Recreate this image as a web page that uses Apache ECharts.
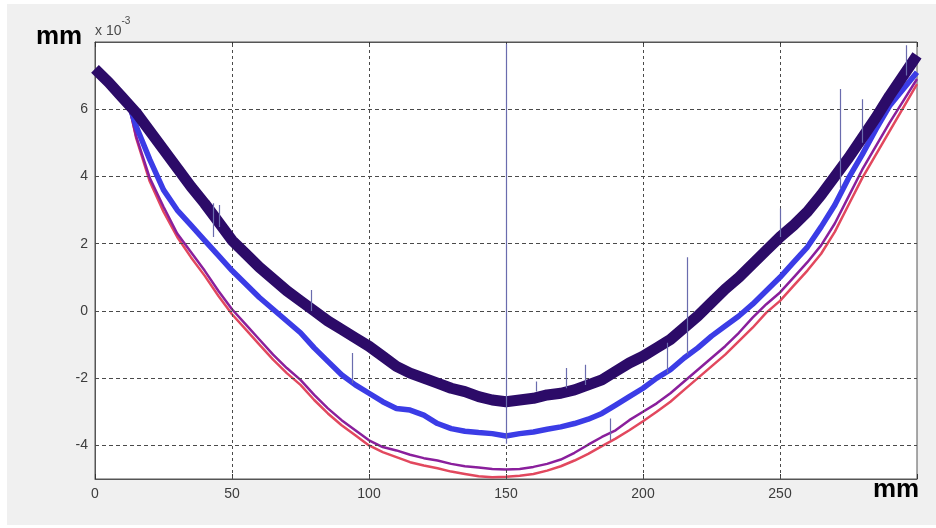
<!DOCTYPE html>
<html>
<head>
<meta charset="utf-8">
<script src="https://cdn.jsdelivr.net/npm/echarts@6/dist/echarts.min.js"></script>
<style>
  html, body { margin: 0; padding: 0; background: #ffffff; }
  #chart { width: 936px; height: 528px; }
</style>
</head>
<body>
<div id="chart"></div>
<script>
// Profile traces, values in units of 1e-3 mm
const xUpper = [0,5,10,15,20,25,30,35,40,45,50,55,60,65,70,75,80,85,90,95,100,105,110,115,120,125,130,135,140,145,150,155,160,165,170,175,180,185,190,195,200,205,210,215,220,225,230,235,240,245,250,255,260,265,270,275,280,285,290,295,300];
const traceDark = [7.2,6.8,6.35,5.9,5.35,4.8,4.25,3.7,3.2,2.65,2.1,1.7,1.3,0.95,0.6,0.3,0.0,-0.3,-0.55,-0.8,-1.05,-1.35,-1.65,-1.85,-2.0,-2.15,-2.3,-2.4,-2.55,-2.65,-2.7,-2.65,-2.6,-2.5,-2.45,-2.35,-2.2,-2.05,-1.8,-1.55,-1.35,-1.1,-0.85,-0.5,-0.15,0.25,0.65,1.0,1.4,1.8,2.2,2.55,2.95,3.45,4.0,4.55,5.15,5.75,6.4,7.0,7.6];

const xLower = [13,15,20,25,30,35,40,45,50,55,60,65,70,75,80,85,90,95,100,105,110,115,120,125,130,135,140,145,150,155,160,165,170,175,180,185,190,195,200,205,210,215,220,225,230,235,240,245,250,255,260,265,270,275,280,285,290,295,300];
const traceBlue = [6.0,5.5,4.5,3.6,3.0,2.55,2.1,1.65,1.2,0.8,0.4,0.05,-0.3,-0.65,-1.1,-1.5,-1.9,-2.2,-2.45,-2.7,-2.9,-2.95,-3.1,-3.35,-3.5,-3.58,-3.62,-3.65,-3.72,-3.65,-3.6,-3.52,-3.45,-3.35,-3.22,-3.05,-2.8,-2.55,-2.3,-2.0,-1.75,-1.4,-1.1,-0.75,-0.45,-0.15,0.2,0.6,1.0,1.45,1.9,2.5,3.15,3.95,4.65,5.4,6.1,6.6,7.1];
const tracePurple = [5.9,5.2,3.95,3.1,2.3,1.75,1.2,0.6,0.05,-0.4,-0.85,-1.3,-1.7,-2.05,-2.5,-2.9,-3.25,-3.55,-3.85,-4.05,-4.15,-4.28,-4.38,-4.45,-4.55,-4.62,-4.66,-4.7,-4.72,-4.7,-4.64,-4.55,-4.42,-4.22,-3.98,-3.75,-3.55,-3.25,-3.0,-2.75,-2.45,-2.1,-1.75,-1.4,-1.05,-0.65,-0.2,0.2,0.55,1.0,1.45,1.95,2.6,3.4,4.2,4.9,5.6,6.25,6.9];
const traceRed = [5.9,5.15,3.85,2.95,2.2,1.6,1.05,0.45,-0.1,-0.55,-1.0,-1.45,-1.85,-2.2,-2.65,-3.05,-3.4,-3.7,-4.0,-4.2,-4.35,-4.5,-4.6,-4.68,-4.78,-4.85,-4.92,-4.95,-4.93,-4.9,-4.85,-4.75,-4.62,-4.45,-4.25,-4.02,-3.8,-3.55,-3.28,-3.0,-2.7,-2.35,-2.0,-1.65,-1.3,-0.9,-0.5,-0.05,0.3,0.75,1.2,1.7,2.35,3.15,3.95,4.65,5.35,6.05,6.75];

// Isolated outliers: [x, low, high]
const spikes = [
  [150, -3.95, 7.95],
  [272, 3.65, 6.6],
  [280, 5.0, 6.3],
  [216, -1.3, 1.6],
  [209, -1.85, -0.95],
  [94, -2.15, -1.25],
  [188, -3.85, -3.2],
  [43, 2.2, 3.2],
  [45.5, 2.5, 3.15],
  [250, 2.2, 3.05],
  [79, 0.0, 0.62],
  [296, 7.0, 7.9],
  [161, -2.4, -2.1],
  [172, -2.3, -1.7],
  [179, -2.2, -1.6]
];

const xTicks = [0, 50, 100, 150, 200, 250];
const yTicks = [-4, -2, 0, 2, 4, 6];

const pairs = (xs, ys) => xs.map((x, i) => [x, ys[i]]);

const FONT = "'Liberation Sans', Arial, sans-serif";
const hGrid = { color: '#4a4a4a', width: 1, type: [4, 3] };
const vGrid = { color: '#4a4a4a', width: 1, type: [3, 3] };

const chart = echarts.init(document.getElementById('chart'));
chart.setOption({
  animation: false,
  backgroundColor: '#f0f0f0',
  grid: {
    left: 95, right: 19, top: 42, bottom: 49,
    show: true, backgroundColor: '#ffffff', borderColor: '#555', borderWidth: 1
  },
  xAxis: [{
    type: 'value', min: 0, max: 300, interval: 50,
    axisLine: { show: true, onZero: false, lineStyle: { color: '#555' } },
    axisTick: { show: true, inside: true, length: 5, lineStyle: { color: '#333' } },
    axisLabel: {
      color: '#3c3c3c', fontSize: 14, fontFamily: FONT, margin: 8,
      formatter: v => (xTicks.indexOf(v) >= 0 ? String(v) : '')
    },
    splitLine: { show: false }
  }, {
    type: 'value', min: 0, max: 300, interval: 50, position: 'top',
    axisLine: { show: true, onZero: false, lineStyle: { color: '#555' } },
    axisTick: { show: true, inside: true, length: 5, lineStyle: { color: '#333' } },
    axisLabel: { show: false },
    splitLine: { show: false }
  }],
  yAxis: {
    type: 'value', min: -5, max: 8, interval: 1,
    axisLine: { show: true, onZero: false, lineStyle: { color: '#555' } },
    axisTick: { show: false },
    axisLabel: {
      color: '#3c3c3c', fontSize: 14, fontFamily: FONT, margin: 7,
      formatter: v => (yTicks.indexOf(v) >= 0 ? String(v) : '')
    },
    splitLine: { show: false }
  },
  graphic: [
    { type: 'rect', shape: { x: 0, y: 0, width: 7, height: 528 }, style: { fill: '#ffffff' }, silent: true },
    { type: 'rect', shape: { x: 0, y: 0, width: 936, height: 4 }, style: { fill: '#ffffff' }, silent: true },
    { type: 'rect', shape: { x: 0, y: 525, width: 936, height: 3 }, style: { fill: '#ffffff' }, silent: true },
    { type: 'text', left: 36, top: 24, style: { text: 'mm', font: "bold 26px " + FONT, fill: '#000' } },
    { type: 'text', left: 873, top: 477, style: { text: 'mm', font: "bold 26px " + FONT, fill: '#000' } },
    {
      type: 'text', left: 95, top: 16,
      style: {
        text: '{b|x 10}{s|-3}',
        rich: {
          b: { fontSize: 14, fontFamily: FONT, fill: '#4a4a4a', padding: [8, 0, 0, 0] },
          s: { fontSize: 10, fontFamily: FONT, fill: '#4a4a4a', verticalAlign: 'top' }
        }
      }
    }
  ],
  series: [
    {
      name: 'grid', type: 'line', data: [], z: 1, silent: true,
      markLine: {
        silent: true, symbol: 'none', animation: false,
        label: { show: false },
        lineStyle: hGrid,
        data: yTicks.map(v => ({ yAxis: v }))
          .concat(xTicks.filter(v => v > 0).map(v => ({ xAxis: v, lineStyle: vGrid })))
      }
    },
    {
      name: 'red', type: 'line', data: pairs(xLower, traceRed), showSymbol: false, symbol: 'none',
      lineStyle: { color: '#e2485e', width: 2.5 }, z: 3
    },
    {
      name: 'purple', type: 'line', data: pairs(xLower, tracePurple), showSymbol: false, symbol: 'none',
      lineStyle: { color: '#8a1f9c', width: 2.5 }, z: 4
    },
    {
      name: 'blue', type: 'line', data: pairs(xLower, traceBlue), showSymbol: false, symbol: 'none',
      lineStyle: { color: '#3b3ce6', width: 5.5 }, z: 5
    },
    {
      name: 'dark', type: 'line', data: pairs(xUpper, traceDark), showSymbol: false, symbol: 'none',
      lineStyle: { color: '#2c0b68', width: 11 }, z: 6
    },
    {
      name: 'spikes', type: 'lines', coordinateSystem: 'cartesian2d', z: 7,
      lineStyle: { color: '#6a6cae', width: 1.2, opacity: 1 },
      data: spikes.map(s => ({ coords: [[s[0], s[1]], [s[0], s[2]]] }))
    }
  ]
});
</script>
</body>
</html>
